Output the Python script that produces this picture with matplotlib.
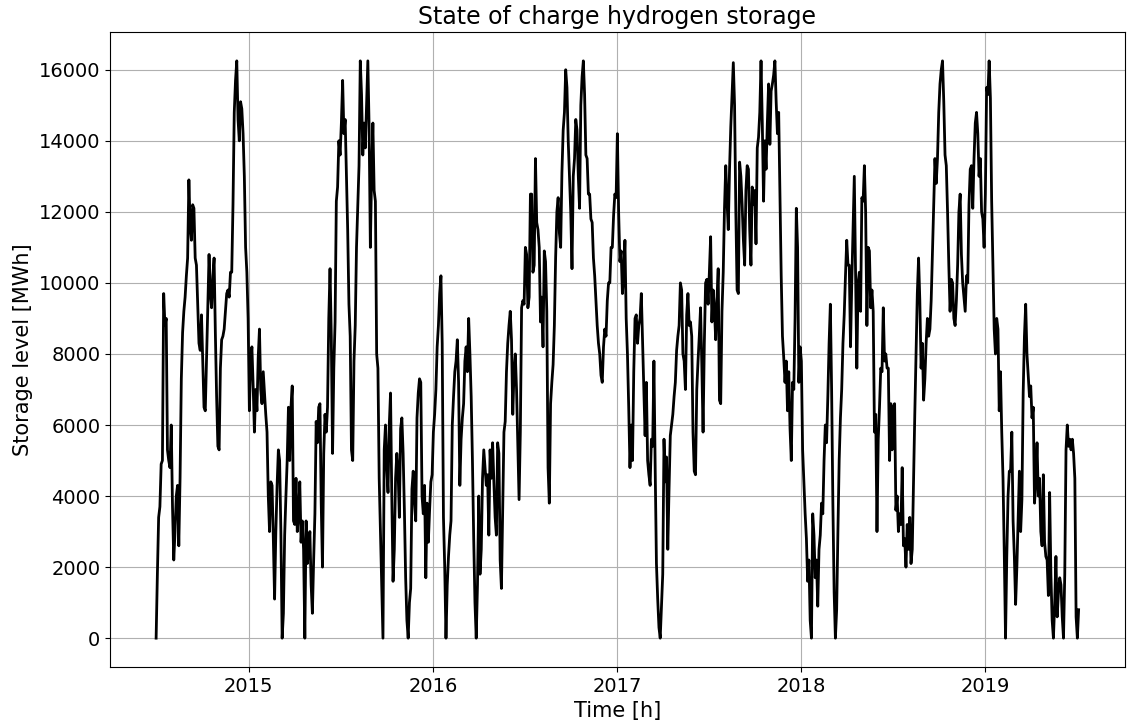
import matplotlib
matplotlib.use("Agg")
import matplotlib.pyplot as plt
import matplotlib.dates as mdates
import numpy as np
import pandas as pd

# Hydrogen storage level [MWh], one sample every 60 hours from 2014-07-01,
# split into July-to-June storage seasons.
season_2014_15 = [
    0, 1800, 3400, 3700, 4900, 5000, 9700, 8800, 9000, 5300,
    5000, 4800, 6000, 3700, 2200, 3000, 4000, 4300, 2600, 4500,
    7300, 8600, 9200, 9600, 10200, 10700, 12900, 11600, 11200, 12200,
    12100, 10700, 10500, 9400, 8300, 8100, 9100, 7800, 6500, 6400,
    7800, 9300, 10800, 9700, 9300, 10200, 10700, 8600, 6800, 5400,
    5300, 7600, 8400, 8500, 8700, 9200, 9700, 9800, 9600, 10300,
    10300, 12200, 14800, 15700, 16250, 14600, 14000, 15100, 14900, 14200,
    13000, 11000, 10300, 9000, 6400, 7800, 8200, 7100, 5800, 7000,
    6400, 7900, 8700, 7000, 6600, 7500, 6900, 6300, 5800, 4000,
    3000, 4400, 4300, 2800, 1100, 3000, 4300, 5300, 5000, 3000,
    0, 700, 2900, 4000, 5000, 6500, 5000, 6500, 7100, 3300,
    3200, 4500, 3000, 3500, 4400, 2700, 3300, 2500, 0, 3300,
    2100, 2500, 3000, 1500, 700, 2200, 3500, 6100, 5500, 6500,
    6600, 3800, 2000, 5200, 6300, 5800, 6500, 9000, 10400, 8500,
    5200, 7600, 8900, 12300, 12700, 14000,
]
season_2015_16 = [
    13600, 14500, 15700, 14200, 14600, 13000, 11500, 9400, 8500, 5300,
    5000, 7800, 8800, 11000, 12200, 13300, 16250, 15300, 13600, 14500,
    13800, 15000, 16250, 14400, 11000, 13100, 14500, 12600, 12300, 8000,
    7600, 4500, 3000, 1500, 0, 5300, 6000, 4800, 4100, 6000,
    6900, 4000, 1600, 2500, 4500, 5200, 4700, 3400, 5900, 6200,
    5200, 3600, 1700, 500, 0, 1000, 1400, 4200, 4700, 3800,
    3300, 6200, 6900, 7300, 7200, 4000, 3500, 4300, 1700, 3800,
    2700, 3600, 4400, 4600, 5800, 6300, 7000, 8200, 8800, 9700,
    10200, 8300, 3400, 2000, 0, 1500, 2300, 2900, 3300, 6000,
    6800, 7500, 7800, 8400, 7200, 4300, 5600, 6200, 6600, 7800,
    8200, 7500, 9000, 8000, 6800, 5000, 2800, 1000, 0, 1500,
    4000, 1800, 2500, 4500, 5300, 4800, 4300, 4600, 2900, 5300,
    4500, 5500, 4400, 3400, 2900, 5500, 5200, 2200, 1400, 3700,
    5800, 6100, 7500, 8300, 8800, 9200, 8400, 6300, 7500, 8000,
    7000, 5500, 3900, 5800, 9300, 9500,
]
season_2016_17 = [
    9400, 11000, 10800, 9300, 9600, 12500, 12500, 10300, 10500, 13500,
    11700, 11500, 11000, 8900, 9600, 8200, 10900, 10600, 9200, 4800,
    3800, 6600, 7200, 7700, 8800, 10700, 12000, 12400, 11400, 11000,
    13100, 14300, 14800, 16000, 15500, 14000, 13000, 12000, 10400, 13000,
    13500, 14600, 14300, 13000, 12100, 15000, 15800, 16250, 15300, 13600,
    13500, 12500, 12500, 11800, 11700, 10700, 10200, 9500, 8800, 8300,
    8000, 7400, 7200, 8200, 8700, 8500, 9500, 10000, 10000, 11000,
    11000, 11900, 12500, 12400, 14200, 12000, 10600, 10900, 9700, 10200,
    11200, 9000, 8000, 6500, 4800, 6000, 5000, 7500, 9000, 9100,
    8300, 8800, 9000, 9700, 8300, 7000, 5700, 7200, 5000, 4600,
    4300, 5600, 5400, 7800, 4800, 2100, 1100, 300, 0, 900,
    1800, 5600, 4400, 5100, 2500, 4200, 5700, 6000, 6300, 6800,
    7200, 8100, 8500, 8800, 10000, 9800, 8000, 7800, 7000, 9100,
    9700, 8800, 8900, 8500, 5800, 4700, 4600, 7000, 7800, 8500,
    9300, 7700, 5800, 8300, 10000, 10100,
]
season_2017_18 = [
    9400, 10300, 11300, 8900, 9800, 9300, 8400, 9500, 10400, 6700,
    6600, 9200, 10300, 12100, 13300, 12300, 11500, 13200, 14400, 15300,
    16200, 15000, 12000, 9800, 9700, 13400, 13000, 12200, 11200, 10500,
    12600, 13300, 13200, 11500, 10500, 12700, 12200, 12600, 11100, 13800,
    14100, 14800, 16250, 14500, 12300, 14000, 13200, 14500, 15600, 13900,
    15400, 15600, 15850, 16250, 15100, 14200, 14800, 12500, 10200, 8500,
    7900, 7200, 7800, 6400, 7500, 5900, 5000, 7200, 7000, 9000,
    12100, 11000, 7200, 8200, 7800, 5300, 4400, 3500, 2800, 1600,
    2200, 500, 0, 3500, 2900, 1700, 2200, 900, 2500, 2900,
    3800, 3500, 5000, 6000, 5500, 6800, 8300, 9400, 7000, 3800,
    1300, 0, 800, 3000, 5000, 6200, 7000, 8300, 9100, 10200,
    11200, 10500, 10500, 8200, 10000, 11500, 13000, 10300, 7600, 10000,
    10300, 9200, 12400, 12300, 13300, 12000, 8800, 11000, 10900, 9300,
    9800, 9200, 5800, 6300, 3000, 5600, 6500, 7600, 7500, 9300,
    7800, 8000, 7600, 7600, 5000, 6600,
]
season_2018_19 = [
    5300, 6500, 6600, 3600, 4000, 3000, 3500, 3200, 4800, 2600,
    2800, 2000, 3200, 2500, 3400, 2100, 2500, 4400, 6300, 8000,
    9700, 10700, 9500, 7600, 8300, 6700, 7300, 8300, 9000, 8500,
    8700, 9500, 10800, 12000, 13500, 12800, 13500, 14800, 15600, 16000,
    16250, 15100, 13600, 13300, 12000, 10500, 9200, 10100, 10000, 9000,
    8800, 9500, 10500, 12000, 12500, 10800, 10000, 9600, 9200, 10200,
    10000, 12200, 13200, 13300, 12100, 13500, 14500, 14800, 14200, 13000,
    13500, 12000, 11800, 11000, 12500, 15500, 15300, 16250, 15200, 12300,
    10500, 8700, 8000, 9000, 8700, 6400, 7500, 5800, 4500, 2400,
    0, 2300, 4000, 4700, 4700, 5800, 3300, 2300, 950, 2000,
    3300, 4700, 3000, 3900, 6900, 8500, 9400, 8000, 7400, 6800,
    7100, 6200, 6500, 3800, 4400, 5500, 4000, 4500, 3000, 2600,
    4600, 2700, 2300, 2200, 1200, 4100, 1800, 500, 0, 950,
    2300, 600, 1300, 1700, 1500, 600, 0, 1800, 5300, 6000,
    5400, 5600, 5300, 5600, 5200, 4500, 600, 0, 800,
]

storage_level = np.concatenate([
    season_2014_15, season_2015_16, season_2016_17,
    season_2017_18, season_2018_19,
])
time_index = pd.date_range("2014-07-01", periods=len(storage_level), freq="60h")

fig = plt.figure(figsize=(11.27, 7.24), dpi=100)
ax = fig.add_axes([0.0976, 0.0787, 0.9004, 0.8771])

ax.plot(time_index, storage_level, color="black", linewidth=2.0)

ax.set_title("State of charge hydrogen storage", fontsize=17)
ax.set_xlabel("Time [h]", fontsize=15)
ax.set_ylabel("Storage level [MWh]", fontsize=15)
ax.tick_params(axis="both", labelsize=14)
ax.xaxis.set_major_locator(mdates.YearLocator())
ax.xaxis.set_major_formatter(mdates.DateFormatter("%Y"))
ax.grid(True, color="#b0b0b0", linewidth=0.8)
ax.set_axisbelow(True)

fig.savefig("out.png", dpi=100)
